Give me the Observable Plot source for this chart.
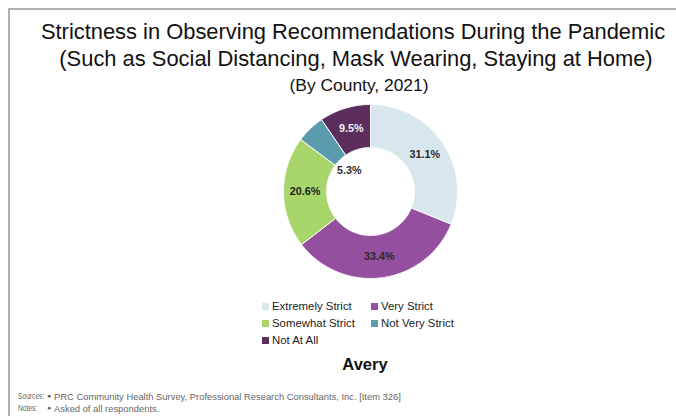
<!DOCTYPE html>
<html>
<head>
<meta charset="utf-8">
<script src="https://cdn.jsdelivr.net/npm/d3@7"></script>
<script src="https://cdn.jsdelivr.net/npm/@observablehq/plot@0.6"></script>
<style>
  html, body { margin: 0; padding: 0; background: #fff; }
  body { width: 676px; height: 419px; position: relative; overflow: hidden; font-family: "Liberation Sans", Arial, sans-serif; color: #111; }
  #frame { position: absolute; left: 8px; top: 8px; width: 668px; height: 406px; border-left: 2px solid #b0b0b0; border-top: 2px solid #b0b0b0; }
  .title { position: absolute; left: 0; width: 706px; text-align: center; white-space: nowrap; color: #111; }
  #t1 { top: 19px; font-size: 21.9px; }
  #t2 { top: 46px; font-size: 21.9px; width: 712px; }
  #t3 { top: 75px; font-size: 17.4px; left: 0; width: 718px; }
  #chart { position: absolute; left: 270px; top: 91px; }
  #legend { position: absolute; left: 262px; top: 300px; font-size: 11.4px; color: #222; }
  .li { position: absolute; white-space: nowrap; }
  .sw { display: inline-block; width: 7px; height: 7px; margin-right: 3px; vertical-align: 0px; }
  #county { position: absolute; left: 0; width: 730px; text-align: center; top: 355px; font-size: 16.5px; font-weight: bold; color: #111; }
  .f { position: absolute; font-size: 9.4px; color: #666; white-space: nowrap; }
  .lab { font-size: 9px; transform-origin: 0 0; transform: scaleX(0.74); }
  .bul { font-size: 7px; margin-top: 1px; }
</style>
</head>
<body>
<div id="frame"></div>
<div class="title" id="t1">Strictness in Observing Recommendations During the Pandemic</div>
<div class="title" id="t2">(Such as Social Distancing, Mask Wearing, Staying at Home)</div>
<div class="title" id="t3">(By County, 2021)</div>
<div id="chart"></div>
<div id="legend"></div>
<div id="county">Avery</div>
<div class="f lab" style="left:18px; top:391px">Sources:</div>
<div class="f bul" style="left:47px; top:391px">●</div>
<div class="f" style="left:54px; top:391px">PRC Community Health Survey, Professional Research Consultants, Inc. [Item 326]</div>
<div class="f lab" style="left:18px; top:403px">Notes:</div>
<div class="f bul" style="left:47px; top:403px">●</div>
<div class="f" style="left:54px; top:403px">Asked of all respondents.</div>
<script>
const categories = ["Extremely Strict", "Very Strict", "Somewhat Strict", "Not Very Strict", "Not At All"];
const values = [31.1, 33.4, 20.6, 5.3, 9.5];
const valueLabels = ["31.1%", "33.4%", "20.6%", "5.3%", "9.5%"];
const colors = ["#d7e7ed", "#944f9e", "#a8d66b", "#5b9bae", "#5b2e5e"];
const labelColors = ["#2b2b2b", "#2b2b2b", "#1e1e1e", "#2b2b2b", "#f0f0f0"];

const outerR = 87, innerR = 44;
const total = d3.sum(values);
const pie = d3.pie().sort(null).value(d => d)(values);

// polygon points for each slice (angle 0 at top, clockwise)
const pts = [];
pie.forEach((p, i) => {
  const a0 = p.startAngle, a1 = p.endAngle;
  const n = Math.max(4, Math.ceil((a1 - a0) / 0.01));
  const ring = [];
  for (let k = 0; k <= n; k++) { const a = a0 + (a1 - a0) * k / n; ring.push([outerR * Math.sin(a), outerR * Math.cos(a)]); }
  for (let k = n; k >= 0; k--) { const a = a0 + (a1 - a0) * k / n; ring.push([innerR * Math.sin(a), innerR * Math.cos(a)]); }
  ring.push(ring[0]);
  ring.forEach(([x, y], j) => pts.push({cat: categories[i], x, y, j}));
});

const labels = pie.map((p, i) => {
  const a = (p.startAngle + p.endAngle) / 2;
  const small = values[i] / total < 0.06;
  const r = small ? 30 : (outerR + innerR) / 2;
  const ang = small ? -Math.PI / 4 : a;
  return {x: r * Math.sin(ang), y: r * Math.cos(ang), label: valueLabels[i], color: labelColors[i]};
});

const chart = Plot.plot({
  width: 200, height: 200,
  margin: 0,
  x: {domain: [-100, 100], axis: null},
  y: {domain: [-100, 100], axis: null},
  color: {domain: categories, range: colors},
  marks: [
    Plot.line(pts, {x: "x", y: "y", z: "cat", fill: "cat", stroke: "white", strokeWidth: 1, curve: "linear"}),
    Plot.text(labels, {x: "x", y: "y", text: "label", fill: d => d.color, fontSize: 10.8, fontWeight: "bold", fontFamily: "Liberation Sans, Arial, sans-serif"})
  ]
});
document.getElementById("chart").appendChild(chart);

// legend
const leg = document.getElementById("legend");
const legPos = [[0, 0], [109, 0], [0, 17], [109, 17], [0, 34]];
categories.forEach((c, i) => {
  const d = document.createElement("div");
  d.className = "li";
  d.style.left = legPos[i][0] + "px";
  d.style.top = legPos[i][1] + "px";
  d.innerHTML = `<span class="sw" style="background:${colors[i]}"></span>${c}`;
  leg.appendChild(d);
});
</script>
</body>
</html>
